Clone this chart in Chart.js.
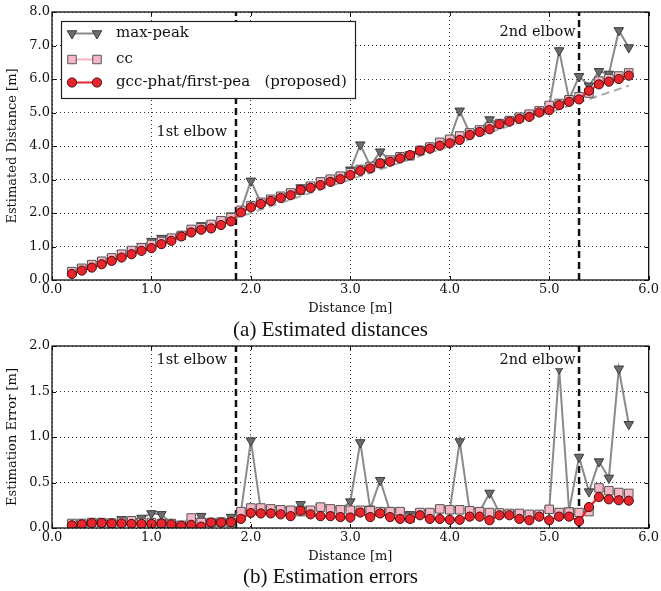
<!DOCTYPE html>
<html><head><meta charset="utf-8">
<script src="https://cdn.jsdelivr.net/npm/chart.js@4.4.0/dist/chart.umd.min.js"></script>
<style>
html,body{margin:0;padding:0;background:#fff;}
body{width:661px;height:591px;position:relative;overflow:hidden;}
canvas{position:absolute;left:0;}
#c1{top:0;width:661px;height:320px;}
#c2{top:334px;width:661px;height:234px;}
.cap{position:absolute;left:0;width:661px;text-align:center;font-family:"Liberation Serif",serif;font-size:21px;color:#111;line-height:24px;}
#capA{top:317px;}
#capB{top:564px;}
</style></head><body>
<canvas id="c1" width="661" height="320"></canvas>
<canvas id="c2" width="661" height="234"></canvas>
<div class="cap" id="capA">(a) Estimated distances</div>
<div class="cap" id="capB">(b) Estimation errors</div>
<script>
// ---------- data ----------
const distances = [0.2,0.3,0.4,0.5,0.6,0.7,0.8,0.9,1.0,1.1,1.2,1.3,1.4,1.5,1.6,1.7,1.8,1.9,2.0,2.1,2.2,2.3,2.4,2.5,2.6,2.7,2.8,2.9,3.0,3.1,3.2,3.3,3.4,3.5,3.6,3.7,3.8,3.9,4.0,4.1,4.2,4.3,4.4,4.5,4.6,4.7,4.8,4.9,5.0,5.1,5.2,5.3,5.4,5.5,5.6,5.7,5.8];

const maxPeakEst = [0.25,0.35,0.46,0.56,0.66,0.80,0.88,1.01,1.16,1.25,1.25,1.33,1.46,1.63,1.66,1.77,1.92,
  2.08,2.96,2.30,2.41,2.50,2.60,2.76,2.80,2.93,
  3.01,3.10,3.29,4.04,3.41,3.83,3.58,3.68,3.75,3.87,3.97,4.11,4.20,5.05,4.39,4.48,4.79,4.67,4.76,4.86,4.95,5.05,5.20,6.85,5.39,6.08,5.80,6.23,6.15,7.45,6.94];
const ccEst = [0.25,0.35,0.46,0.56,0.66,0.77,0.88,0.96,1.06,1.15,1.25,1.33,1.51,1.56,1.66,1.77,1.86,
  2.08,2.22,2.32,2.41,2.50,2.60,2.68,2.80,2.93,
  3.01,3.10,3.20,3.30,3.39,3.48,3.58,3.68,3.71,3.87,3.97,4.11,4.20,4.30,4.39,4.48,4.57,4.67,4.76,4.86,4.95,5.05,5.21,5.27,5.38,5.47,5.58,5.94,6.01,6.09,6.18];
const gccEst = [0.18,0.28,0.37,0.47,0.57,0.67,0.77,0.87,0.95,1.07,1.17,1.30,1.42,1.50,1.54,1.64,1.75,
  2.02,2.17,2.27,2.36,2.45,2.53,2.69,2.75,2.83,
  2.93,3.01,3.13,3.26,3.33,3.48,3.53,3.63,3.73,3.86,3.92,4.01,4.08,4.18,4.33,4.42,4.50,4.65,4.73,4.81,4.87,5.00,5.07,5.22,5.32,5.39,5.65,5.84,5.92,6.00,6.10];

const maxPeakErr = [0.05,0.05,0.06,0.06,0.055,0.095,0.08,0.11,0.16,0.15,0.05,0.03,0.06,0.13,0.06,0.065,0.12,
  0.18,0.96,0.20,0.21,0.20,0.195,0.26,0.195,0.23,
  0.21,0.20,0.29,0.94,0.21,0.525,0.18,0.18,0.15,0.17,0.17,0.21,0.20,0.95,0.19,0.18,0.385,0.165,0.16,0.16,0.15,0.15,0.20,1.75,0.19,0.78,0.40,0.73,0.55,1.75,1.14];
const ccErr = [0.05,0.05,0.06,0.06,0.055,0.065,0.08,0.06,0.06,0.05,0.05,0.03,0.11,0.06,0.06,0.065,0.06,
  0.18,0.22,0.22,0.21,0.20,0.195,0.18,0.195,0.23,
  0.21,0.20,0.195,0.195,0.19,0.18,0.18,0.18,0.11,0.17,0.17,0.21,0.20,0.20,0.19,0.18,0.17,0.165,0.16,0.16,0.15,0.15,0.205,0.17,0.175,0.17,0.18,0.44,0.41,0.39,0.38];
const gccErr = [0.03,0.04,0.055,0.055,0.05,0.05,0.045,0.045,0.045,0.05,0.04,0.025,0.035,0.015,0.06,0.06,0.065,
  0.10,0.165,0.16,0.16,0.15,0.13,0.19,0.15,0.13,
  0.13,0.12,0.115,0.17,0.12,0.16,0.12,0.10,0.10,0.14,0.10,0.10,0.09,0.09,0.125,0.125,0.085,0.14,0.14,0.10,0.085,0.125,0.085,0.125,0.125,0.075,0.23,0.34,0.315,0.305,0.30];

const truthX = [0.2, 5.8];
const truthY = [0.2, 5.8];
const elbows = [1.85, 5.3];
const elbowLabels = ['1st elbow', '2nd elbow'];
const seriesNames = ['max-peak', 'cc', 'gcc-phat/first-pea   (proposed)'];

const xTicks = [0,1,2,3,4,5,6];
const xTickLabels = ['0.0','1.0','2.0','3.0','4.0','5.0','6.0'];
const topYTicks = [0,1,2,3,4,5,6,7,8];
const topYTickLabels = ['0.0','1.0','2.0','3.0','4.0','5.0','6.0','7.0','8.0'];
const botYTicks = [0,0.5,1.0,1.5,2.0];
const botYTickLabels = ['0.0','0.5','1.0','1.5','2.0'];

// ---------- styles ----------
const FONT = 'DejaVu Serif';
const STY = {
  max: {borderColor:'#8a8a8a', borderWidth:2, pointStyle:'triangle', rotation:180, pointRadius:5.5,
        pointBackgroundColor:'#6c6c6c', pointBorderColor:'#3c3c3c', pointBorderWidth:1},
  cc:  {borderColor:'#f4b3c1', borderWidth:2, pointStyle:'rect', rotation:0, pointRadius:6,
        pointBackgroundColor:'#f6b8c6', pointBorderColor:'#555', pointBorderWidth:1},
  gcc: {borderColor:'#e4242b', borderWidth:2, pointStyle:'circle', rotation:0, pointRadius:4.6,
        pointBackgroundColor:'#e8252c', pointBorderColor:'#4a0d0d', pointBorderWidth:1}
};

function pts(xs, ys){ return xs.map((x,i)=>({x:x, y:ys[i]})); }

function seriesDs(key, label, ys, order){
  const s = STY[key];
  return Object.assign({label, data: pts(distances, ys), order, tension:0,
    pointRotation: s.rotation, pointHoverRadius: s.pointRadius, fill:false}, s);
}

const framePlugin = {
  id:'frameTicks',
  afterDatasetsDraw(chart){
    const {ctx, chartArea:a, scales} = chart;
    ctx.save();
    ctx.strokeStyle = '#111'; ctx.lineWidth = 1;
    ctx.beginPath();
    scales.x.ticks.forEach(t=>{
      const px = Math.round(scales.x.getPixelForValue(t.value))+0.5;
      ctx.moveTo(px, a.bottom); ctx.lineTo(px, a.bottom-4);
      ctx.moveTo(px, a.top); ctx.lineTo(px, a.top+4);
    });
    scales.y.ticks.forEach(t=>{
      const py = Math.round(scales.y.getPixelForValue(t.value))+0.5;
      ctx.moveTo(a.left, py); ctx.lineTo(a.left+4, py);
      ctx.moveTo(a.right, py); ctx.lineTo(a.right-4, py);
    });
    ctx.stroke();
    ctx.lineWidth = 1.3;
    ctx.strokeRect(a.left, a.top, a.right-a.left, a.bottom-a.top);
    ctx.restore();
  }
};

function elbowTextPlugin(yVals){
  return {
    id:'elbowText',
    afterDatasetsDraw(chart){
      const {ctx, scales} = chart;
      ctx.save();
      ctx.font = '14.5px "' + FONT + '"';
      ctx.textBaseline = 'middle'; ctx.textAlign = 'left';
      elbows.forEach((e,i)=>{
        const x = scales.x.getPixelForValue(e - 0.8);
        const y = scales.y.getPixelForValue(yVals[i]);
        const w = ctx.measureText(elbowLabels[i]).width;
        ctx.fillStyle = '#fff';
        ctx.fillRect(x-1, y-9, w+2, 18);
        ctx.fillStyle = '#111';
        ctx.fillText(elbowLabels[i], x, y+1);
      });
      ctx.restore();
    }
  };
}

const legendPlugin = {
  id:'legendBox',
  afterDraw(chart){
    const ctx = chart.ctx;
    ctx.save();
    ctx.fillStyle = '#fff';
    ctx.fillRect(61, 21, 295, 78);
    ctx.strokeStyle = '#222'; ctx.lineWidth = 1.2;
    ctx.strokeRect(61.5, 21.5, 294, 77);
    const keys = ['max','cc','gcc'];
    const ys = [33.5, 59.5, 82.5];
    keys.forEach((k,i)=>{
      const s = STY[k];
      const y = ys[i];
      ctx.strokeStyle = s.borderColor; ctx.lineWidth = s.borderWidth;
      ctx.beginPath(); ctx.moveTo(72, y); ctx.lineTo(97, y); ctx.stroke();
      [72, 97].forEach(x=>{
        ctx.fillStyle = s.pointBackgroundColor;
        ctx.strokeStyle = s.pointBorderColor;
        ctx.lineWidth = s.pointBorderWidth;
        Chart.helpers.drawPoint(ctx, {pointStyle:s.pointStyle, rotation:s.rotation, radius:s.pointRadius, borderWidth:s.pointBorderWidth}, x, y);
      });
      ctx.fillStyle = '#111';
      ctx.font = '15px "' + FONT + '"';
      ctx.textBaseline = 'middle'; ctx.textAlign = 'left';
      ctx.fillText(seriesNames[i], 116, y);
    });
    ctx.restore();
  }
};

function makeChart(id, o){
  const datasets = [
    seriesDs('max', seriesNames[0], o.max, 2),
    seriesDs('cc', seriesNames[1], o.cc, 1),
    seriesDs('gcc', seriesNames[2], o.gcc, 0)
  ];
  if (o.truth) {
    datasets.push({label:'truth', data: pts(truthX, truthY), borderColor:'#aaaaaa', borderWidth:2,
      borderDash:[8,5], pointRadius:0, order:3, tension:0});
  }
  elbows.forEach(e=>{
    datasets.push({label:'elbow', data:[{x:e, y:o.yMin},{x:e, y:o.yMax}], borderColor:'#111',
      borderWidth:2.5, borderDash:[7,4], pointRadius:0, order:4, tension:0});
  });
  const plugins = [framePlugin, elbowTextPlugin(o.labelY)];
  if (o.legend) plugins.push(legendPlugin);
  return new Chart(document.getElementById(id), {
    type:'line',
    data:{datasets},
    options:{
      responsive:false, animation:false, devicePixelRatio:1,
      layout:{padding:{top:12, right:10, left:0, bottom:0}},
      plugins:{legend:{display:false}, tooltip:{enabled:false}},
      scales:{
        x:{type:'linear', min:0, max:6,
          afterBuildTicks:s=>{ s.ticks = xTicks.map(v=>({value:v})); },
          afterFit:s=>{ s.height = 40; },
          grid:{color:'rgba(0,0,0,0.8)', lineWidth:1, drawTicks:false},
          border:{display:false, dash:[1,3]},
          ticks:{font:{family:FONT, size:13}, color:'#111', padding:2, maxRotation:0, autoSkip:false,
            callback:(v,i)=>xTickLabels[i]},
          title:{display:true, text:'Distance [m]', font:{family:FONT, size:13}, color:'#111', padding:{top:0, bottom:4}}
        },
        y:{type:'linear', min:o.yMin, max:o.yMax,
          afterBuildTicks:s=>{ s.ticks = o.yTicks.map(v=>({value:v})); },
          afterFit:s=>{ s.width = 52; },
          grid:{color:'rgba(0,0,0,0.8)', lineWidth:1, drawTicks:false},
          border:{display:false, dash:[1,3]},
          ticks:{font:{family:FONT, size:13}, color:'#111', padding:2, autoSkip:false,
            callback:(v,i)=>o.yTickLabels[i]},
          title:{display:true, text:o.yTitle, font:{family:FONT, size:13}, color:'#111', padding:{top:5, bottom:0}}
        }
      }
    },
    plugins
  });
}

makeChart('c1', {max:maxPeakEst, cc:ccEst, gcc:gccEst, truth:true, legend:true,
  yMin:0, yMax:8, yTicks:topYTicks, yTickLabels:topYTickLabels, yTitle:'Estimated Distance [m]',
  labelY:[4.45, 7.43]});
makeChart('c2', {max:maxPeakErr, cc:ccErr, gcc:gccErr, truth:false, legend:false,
  yMin:0, yMax:2, yTicks:botYTicks, yTickLabels:botYTickLabels, yTitle:'Estimation Error [m]',
  labelY:[1.857, 1.857]});
</script>
</body></html>
